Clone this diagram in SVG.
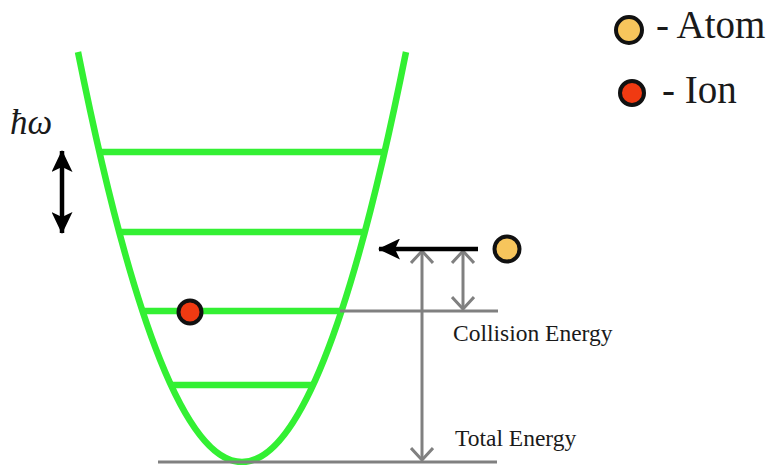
<svg xmlns="http://www.w3.org/2000/svg" width="773" height="465" viewBox="0 0 773 465">
<style>
.g{stroke:#33f033;stroke-width:6.5;fill:none;stroke-linecap:butt}
.gray{stroke:#808080;stroke-width:3;fill:none}
.blk{stroke:#000;stroke-width:4.5;fill:none}
.t{font-family:"Liberation Serif",serif;fill:#1a1a1a}
.dot{stroke:#111;stroke-width:4}
</style>
<defs>
<marker id="gv" viewBox="0 0 14 24" refX="13" refY="12" markerWidth="14" markerHeight="24" markerUnits="userSpaceOnUse" orient="auto-start-reverse">
<path d="M1,1 L13,12 L1,23" fill="none" stroke="#808080" stroke-width="3"/>
</marker>
<marker id="bk" viewBox="0 0 22 21" refX="21" refY="10.5" markerWidth="22" markerHeight="21" markerUnits="userSpaceOnUse" orient="auto-start-reverse">
<path d="M0,0 L22,10.5 L0,21 L5,10.5 Z" fill="#000"/>
</marker>
</defs>
<rect width="773" height="465" fill="#fff"/>
<g id="well">
<path class="g" d="M78,52 Q242,872 406,52"/>
<line class="g" x1="99" y1="152" x2="385" y2="152"/>
<line class="g" x1="119" y1="232" x2="365" y2="232"/>
<line class="g" x1="142" y1="311" x2="342" y2="311"/>
<line class="g" x1="171" y1="385" x2="313" y2="385"/>
</g>
<g id="connectors">
<line class="gray" x1="340" y1="311" x2="498" y2="311"/>
<line class="gray" x1="158" y1="462" x2="497" y2="462"/>
<line class="gray" x1="422" y1="251" x2="422" y2="460" marker-start="url(#gv)" marker-end="url(#gv)"/>
<line class="gray" x1="463" y1="251" x2="463" y2="309" marker-start="url(#gv)" marker-end="url(#gv)"/>
<line class="blk" x1="478" y1="249" x2="379" y2="249" marker-end="url(#bk)"/>
<line class="blk" x1="62" y1="151" x2="62" y2="233" marker-start="url(#bk)" marker-end="url(#bk)"/>
</g>
<g id="hbar">
<text class="t" x="10" y="134" font-size="35" font-style="italic">ħω</text>
</g>
<g id="ion">
<circle cx="190" cy="312" r="11.5" fill="#f03a12" class="dot"/>
</g>
<g id="atom">
<circle cx="507" cy="249" r="12.5" fill="#f7c55c" class="dot"/>
</g>
<g id="labels">
<text class="t" x="453" y="341" font-size="23.5">Collision Energy</text>
<text class="t" x="455" y="446" font-size="23.5">Total Energy</text>
</g>
<g id="legend">
<circle cx="629" cy="30" r="13" fill="#f7c55c" class="dot"/>
<text class="t" x="656" y="38" font-size="39">- Atom</text>
<circle cx="632" cy="93" r="12" fill="#f03a12" class="dot"/>
<text class="t" x="662" y="103" font-size="39">- Ion</text>
</g>
</svg>
